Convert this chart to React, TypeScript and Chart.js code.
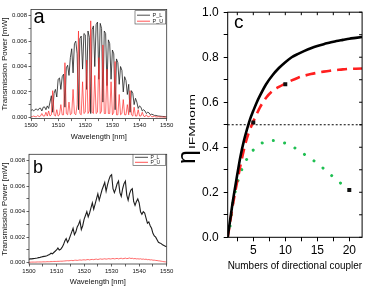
import React, { useEffect, useRef } from 'react';
import { Chart, registerables } from 'chart.js';
Chart.register(...registerables);

const FONT = '"Liberation Sans", Arial, Helvetica, sans-serif';

// ---------- panels a & b : spectra ----------
const WAVELENGTH = Array.from({ length: 101 }, (_, i) => 1500 + i * 0.5);
const SPEC_X_TICKS = [1500, 1510, 1520, 1530, 1540, 1550];
const SPEC_X_MINOR = [1505, 1515, 1525, 1535, 1545];
const SPEC_Y_TICKS = [0, 0.002, 0.004, 0.006, 0.008];
const SPEC_Y_MINOR = [0.001, 0.003, 0.005, 0.007];
const LEGEND_LABELS = ['P_L', 'P_U'];

const A_PL = [
  0.00055, 0.0006, 0.0005, 0.00062, 0.00066, 0.00055, 0.0007, 0.00072, 0.0005, 0.0008,
  0.00082, 0.0006, 0.0009, 0.0007, 0.0012, 0.0017, 0.0004, 0.0019, 0.0022, 0.0016,
  0.003, 0.0031, 0.0022, 0.0032, 0.0034, 0.0008, 0.0039, 0.0041, 0.0033, 0.0047,
  0.0054, 0.0035, 0.0058, 0.006, 0.005, 0.0006, 0.0062, 0.0064, 0.0038, 0.0066,
  0.0065, 0.0022, 0.0068, 0.0063, 0.0003, 0.0069, 0.0072, 0.004, 0.0073, 0.0075,
  0.003, 0.0074, 0.007, 0.0012, 0.0068, 0.0066, 0.0025, 0.0061, 0.0058, 0.003,
  0.0053, 0.005, 0.0006, 0.0046, 0.0043, 0.0026, 0.004, 0.0037, 0.002, 0.0032,
  0.0029, 0.0018, 0.0026, 0.0004, 0.0021, 0.0019, 0.001, 0.0015, 0.0012, 0.0007,
  0.0009, 0.0008, 0.0005, 0.0006, 0.0005, 0.0003, 0.0004, 0.00035, 0.0002, 0.00025,
  0.0002, 0.00015, 0.00015, 0.00012, 0.0001, 0.00009, 0.00008, 0.00007, 0.00006, 0.00005,
  0.00005,
];
const A_PU = [
  0.00005, 0.00005, 0.0001, 0.00005, 0.00005, 0.00015, 0.00005, 0.0001, 0.0003, 0.0001,
  0.0001, 0.0004, 0.0001, 0.0005, 0.0001, 0.0002, 0.0021, 0.0002, 0.0001, 0.0006,
  0.0001, 0.0002, 0.001, 0.0002, 0.0002, 0.0043, 0.0003, 0.0002, 0.0012, 0.0002,
  0.0003, 0.0022, 0.0003, 0.0002, 0.001, 0.0068, 0.0003, 0.0002, 0.0028, 0.0003,
  0.0004, 0.0045, 0.0003, 0.0005, 0.0076, 0.0004, 0.0003, 0.0033, 0.0003, 0.0004,
  0.0047, 0.0003, 0.0005, 0.0057, 0.0003, 0.0003, 0.0038, 0.0003, 0.0003, 0.0028,
  0.0002, 0.0004, 0.0044, 0.0002, 0.0002, 0.0018, 0.0002, 0.0003, 0.0014, 0.0002,
  0.0002, 0.001, 0.0002, 0.0021, 0.0002, 0.0001, 0.0008, 0.0001, 0.0001, 0.0006,
  0.0001, 0.0001, 0.0004, 0.0001, 0.00005, 0.0002, 0.00005, 0.00005, 0.00015, 0.00005,
  0.00005, 0.0001, 0.00003, 0.00003, 0.00005, 0.00003, 0.00003, 0.00002, 0.00002, 0.00002,
  0.00002,
];
const B_PL = [
  0.00028, 0.0003, 0.0003, 0.00032, 0.00033, 0.00035, 0.00037, 0.0004, 0.00042, 0.00045,
  0.00048, 0.0005, 0.00052, 0.00055, 0.0006, 0.00065, 0.00075, 0.0007, 0.0008, 0.0009,
  0.001, 0.00115, 0.001, 0.00105, 0.0012, 0.0014, 0.0017, 0.0019, 0.0016, 0.0018,
  0.0021, 0.0024, 0.0027, 0.0022, 0.0024, 0.0028, 0.003, 0.0033, 0.0026, 0.0029,
  0.0034, 0.0037, 0.004, 0.0036, 0.0039, 0.0043, 0.0047, 0.0042, 0.0046, 0.005,
  0.0054, 0.0049, 0.0053, 0.0057, 0.006, 0.0063, 0.0056, 0.0061, 0.0065, 0.0068,
  0.0069, 0.0058, 0.0055, 0.0058, 0.0062, 0.0064, 0.0055, 0.0052, 0.0058, 0.0062,
  0.0064, 0.0053, 0.0049, 0.0054, 0.0057, 0.0058, 0.0048, 0.0045, 0.0048, 0.005,
  0.0047, 0.004, 0.0038, 0.004, 0.0039, 0.0035, 0.0031, 0.0032, 0.0029, 0.0027,
  0.0023, 0.0021, 0.002, 0.0018, 0.0016, 0.00155, 0.0015, 0.0014, 0.00135, 0.0013,
  0.00125,
];
const B_PU = [
  0.00004, 0.00004, 0.00005, 0.00005, 0.00005, 0.00005, 0.00006, 0.00006, 0.00006, 0.00006,
  0.00007, 0.00007, 0.00007, 0.00008, 0.00008, 0.00008, 0.00009, 0.00009, 0.0001, 0.0001,
  0.0001, 0.00011, 0.00011, 0.00012, 0.00012, 0.00013, 0.00014, 0.00015, 0.00016, 0.00015,
  0.00017, 0.00018, 0.00016, 0.00019, 0.0002, 0.00018, 0.0002, 0.00022, 0.0002, 0.00022,
  0.00023, 0.00021, 0.00024, 0.00025, 0.00022, 0.00025, 0.00026, 0.00024, 0.00027, 0.00028,
  0.00025, 0.00028, 0.0003, 0.00027, 0.00029, 0.00031, 0.00028, 0.0003, 0.00032, 0.00029,
  0.00031, 0.00033, 0.0003, 0.00032, 0.00034, 0.0003, 0.00033, 0.00035, 0.00031, 0.00033,
  0.00036, 0.00032, 0.00034, 0.00037, 0.00033, 0.00035, 0.00031, 0.00033, 0.0003, 0.00031,
  0.00029, 0.00031, 0.00027, 0.00029, 0.00026, 0.00028, 0.00024, 0.00025, 0.00022, 0.00023,
  0.0002, 0.0002, 0.00018, 0.00017, 0.00015, 0.00014, 0.00012, 0.0001, 0.00008, 0.00007,
  0.00005,
];

// ---------- panel c ----------
const N_GRID = [1, 1.25, 1.5, 1.75, 2, 2.5, 3, 3.5, 4, 4.5, 5, 5.5, 6, 7, 8, 9, 10, 11, 12, 13, 14, 15, 16, 17, 18, 19, 20, 21, 22];
const ETA_BLACK = [0, 0.05, 0.1, 0.15, 0.195, 0.28, 0.36, 0.425, 0.478, 0.525, 0.562, 0.597, 0.627, 0.68, 0.72, 0.752, 0.778, 0.8, 0.815, 0.828, 0.84, 0.85, 0.858, 0.865, 0.872, 0.877, 0.882, 0.886, 0.89];
const ETA_RED = [0, 0.045, 0.09, 0.135, 0.175, 0.25, 0.32, 0.385, 0.44, 0.48, 0.515, 0.545, 0.575, 0.62, 0.65, 0.668, 0.683, 0.697, 0.709, 0.718, 0.725, 0.731, 0.736, 0.74, 0.743, 0.746, 0.748, 0.749, 0.75];
const N_GREEN = [1, 1.25, 1.5, 1.75, 2, 2.5, 3, 3.5, 4, 4.5, 5, 5.5, 6, 7, 8, 9, 10, 11, 12, 13, 14, 15, 16, 17, 18, 19, 20, 21, 21.3];
const ETA_GREEN = [0, 0.03, 0.075, 0.14, 0.18, 0.24, 0.285, 0.322, 0.348, 0.372, 0.388, 0.4, 0.413, 0.425, 0.43, 0.425, 0.418, 0.405, 0.388, 0.368, 0.35, 0.328, 0.305, 0.28, 0.256, 0.232, 0.208, 0.188, 0.182];
const THRESHOLD = 0.5;
const MARK_N = [5, 10, 20];
const MARK_ETA = [0.51, 0.68, 0.21];
const C_X_TICKS = [5, 10, 15, 20];
const C_X_MINOR = [2.5, 7.5, 12.5, 17.5];
const C_Y_TICKS = [0, 0.2, 0.4, 0.6, 0.8, 1.0];
const C_Y_MINOR = [0.1, 0.3, 0.5, 0.7, 0.9];

const pts = (xs: number[], ys: number[]) => ys.map((y, i) => ({ x: xs[i], y }));

const framePlugin = (color: string, width: number) => ({
  id: 'frame',
  afterDatasetsDraw(chart: any) {
    const { ctx, chartArea: a } = chart;
    ctx.save();
    ctx.strokeStyle = color;
    ctx.lineWidth = width;
    ctx.strokeRect(a.left, a.top, a.right - a.left, a.bottom - a.top);
    ctx.restore();
  },
});

const letterPlugin = (text: string, size: number, dx: number, dy: number) => ({
  id: 'letter',
  afterDraw(chart: any) {
    const { ctx, chartArea: a } = chart;
    ctx.save();
    ctx.fillStyle = '#000';
    ctx.font = `${size}px ${FONT}`;
    ctx.textBaseline = 'alphabetic';
    ctx.textAlign = 'left';
    ctx.fillText(text, a.left + dx, a.top + dy);
    ctx.restore();
  },
});

const legendPlugin = (w: number, h: number, dx: number, dy: number, rows: number[], fs: number) => ({
  id: 'legendBox',
  afterDraw(chart: any) {
    const { ctx, chartArea: a } = chart;
    const x0 = a.right - dx - w;
    const y0 = a.top + dy;
    ctx.save();
    ctx.fillStyle = '#fff';
    ctx.fillRect(x0, y0, w, h);
    ctx.strokeStyle = '#444';
    ctx.lineWidth = 0.6;
    ctx.strokeRect(x0, y0, w, h);
    LEGEND_LABELS.forEach((lab, i) => {
      const ds = chart.data.datasets.find((d: any) => d.label === lab);
      const y = y0 + rows[i];
      ctx.strokeStyle = ds.borderColor;
      ctx.lineWidth = 0.8;
      ctx.beginPath();
      ctx.moveTo(x0 + 2, y);
      ctx.lineTo(x0 + 15, y);
      ctx.stroke();
      ctx.fillStyle = '#222';
      ctx.font = `${fs}px ${FONT}`;
      ctx.textBaseline = 'middle';
      ctx.fillText(lab, x0 + 17.5, y);
    });
    ctx.restore();
  },
});

function specConfig(pl: number[], pu: number[], p: any) {
  const fmt3 = (v: number) => (SPEC_Y_TICKS.some((t) => Math.abs(t - v) < 1e-9) ? v.toFixed(3) : '');
  const fmtX = (v: number) => (SPEC_X_TICKS.includes(v) ? String(v) : '');
  return {
    type: 'line',
    data: {
      datasets: [
        { label: LEGEND_LABELS[0], data: pts(WAVELENGTH, pl), borderColor: '#1e1e1e', borderWidth: p.blw, pointRadius: 0, order: 2 },
        { label: LEGEND_LABELS[1], data: pts(WAVELENGTH, pu), borderColor: '#ff2a2a', borderWidth: 0.7, pointRadius: 0, order: 1 },
      ],
    },
    options: {
      responsive: false,
      animation: false,
      devicePixelRatio: 1,
      layout: { padding: { left: 0, top: p.top, right: p.right, bottom: p.bottom } },
      plugins: { legend: { display: false }, tooltip: { enabled: false } },
      scales: {
        x: {
          type: 'linear',
          min: 1500,
          max: 1550,
          afterBuildTicks: (s: any) => {
            s.ticks = [...SPEC_X_TICKS, ...SPEC_X_MINOR].sort((a, b) => a - b).map((v) => ({ value: v }));
          },
          afterFit: (s: any) => {
            s.height = p.xh;
          },
          ticks: { autoSkip: false, maxRotation: 0, padding: 1, color: '#111', font: { family: FONT, size: 6 }, callback: fmtX },
          grid: { drawOnChartArea: false, tickLength: 2.5, color: '#222', lineWidth: 0.7 },
          border: { display: false },
          title: { display: true, text: 'Wavelength [nm]', color: '#111', font: { family: FONT, size: 7.5 }, padding: 0 },
        },
        y: {
          type: 'linear',
          min: -0.0001,
          max: 0.0085,
          afterBuildTicks: (s: any) => {
            s.ticks = [...SPEC_Y_TICKS, ...SPEC_Y_MINOR].sort((a, b) => a - b).map((v) => ({ value: v }));
          },
          afterFit: (s: any) => {
            s.width = p.yw;
          },
          ticks: { autoSkip: false, padding: 1.5, color: '#111', font: { family: FONT, size: 6 }, callback: fmt3 },
          grid: { drawOnChartArea: false, tickLength: 2.5, color: '#222', lineWidth: 0.7 },
          border: { display: false },
          title: { display: true, text: 'Transmission Power [mW]', color: '#111', font: { family: FONT, size: 8 }, padding: 0 },
        },
      },
    },
    plugins: [framePlugin('#333', 0.8), letterPlugin(p.letter, p.lsize, p.ldx, p.ldy), legendPlugin(p.lw, p.lh, p.ldxr, p.ldyt, p.rows, p.lfs)],
  };
}

const etaTitlePlugin = {
  id: 'etaTitle',
  afterDraw(chart: any) {
    const { ctx } = chart;
    ctx.save();
    ctx.translate(20, 164);
    ctx.rotate(-Math.PI / 2);
    ctx.fillStyle = '#000';
    ctx.textBaseline = 'alphabetic';
    ctx.font = `25px ${FONT}`;
    ctx.fillText('η', 0, 0);
    const w = ctx.measureText('η').width;
    ctx.translate(w + 1, -0.5);
    ctx.scale(1.45, 1);
    ctx.font = `9.5px ${FONT}`;
    ctx.fillText('IFMnorm', 0, 0);
    ctx.restore();
  },
};

const mirrorTicksPlugin = {
  id: 'mirrorTicks',
  afterDatasetsDraw(chart: any) {
    const { ctx, chartArea: a, scales } = chart;
    ctx.save();
    ctx.strokeStyle = '#000';
    ctx.lineWidth = 1;
    ctx.beginPath();
    [...C_X_TICKS, ...C_X_MINOR].forEach((v) => {
      const x = scales.x.getPixelForValue(v);
      ctx.moveTo(x, a.top);
      ctx.lineTo(x, a.top + 3);
    });
    [...C_Y_TICKS, ...C_Y_MINOR].forEach((v) => {
      const y = scales.y.getPixelForValue(v);
      ctx.moveTo(a.right, y);
      ctx.lineTo(a.right - 3, y);
    });
    ctx.stroke();
    ctx.restore();
  },
};

function etaConfig() {
  return {
    type: 'line',
    data: {
      datasets: [
        { label: 'marks', data: pts(MARK_N, MARK_ETA), showLine: false, pointStyle: 'rect', pointRadius: 2.8, backgroundColor: '#111', borderColor: '#111', borderWidth: 0, order: 0 },
        { label: 'ideal', data: pts(N_GRID, ETA_BLACK), borderColor: '#000', borderWidth: 2.6, pointRadius: 0, cubicInterpolationMode: 'monotone', order: 1 },
        { label: 'loss', data: pts(N_GRID, ETA_RED), borderColor: '#ff1f1f', borderWidth: 2.6, borderDash: [10, 6], pointRadius: 0, cubicInterpolationMode: 'monotone', order: 2 },
        { label: 'lossy', data: pts(N_GREEN, ETA_GREEN), borderColor: '#1fbf52', borderWidth: 3, borderDash: [0.01, 11.5], borderCapStyle: 'round', pointRadius: 0, cubicInterpolationMode: 'monotone', order: 3 },
        { label: 'threshold', data: [{ x: 1, y: THRESHOLD }, { x: 22, y: THRESHOLD }], borderColor: '#000', borderWidth: 1, borderDash: [2, 2], pointRadius: 0, order: 4 },
      ],
    },
    options: {
      responsive: false,
      animation: false,
      devicePixelRatio: 1,
      layout: { padding: { left: 0, top: 7.3, right: 11.9, bottom: 14.1 } },
      plugins: { legend: { display: false }, tooltip: { enabled: false } },
      scales: {
        x: {
          type: 'linear',
          min: 1,
          max: 22,
          afterBuildTicks: (s: any) => {
            s.ticks = [...C_X_TICKS, ...C_X_MINOR].sort((a, b) => a - b).map((v) => ({ value: v }));
          },
          afterFit: (s: any) => {
            s.height = 35.6;
          },
          ticks: { autoSkip: false, maxRotation: 0, padding: 2, color: '#000', font: { family: FONT, size: 12 }, callback: (v: number) => (C_X_TICKS.includes(v) ? String(v) : '') },
          grid: { drawOnChartArea: false, tickLength: 4, color: '#000', lineWidth: 1 },
          border: { display: false },
          title: { display: true, text: 'Numbers of directional coupler', color: '#000', font: { family: FONT, size: 11.5 }, padding: 0 },
        },
        y: {
          type: 'linear',
          min: 0,
          max: 1,
          afterBuildTicks: (s: any) => {
            s.ticks = [...C_Y_TICKS, ...C_Y_MINOR].sort((a, b) => a - b).map((v) => ({ value: v }));
          },
          afterFit: (s: any) => {
            s.width = 52.7;
          },
          ticks: { autoSkip: false, padding: 5, color: '#000', font: { family: FONT, size: 12 }, callback: (v: number) => (C_Y_TICKS.some((t) => Math.abs(t - v) < 1e-9) ? v.toFixed(1) : '') },
          grid: { drawOnChartArea: false, tickLength: 4, color: '#000', lineWidth: 1 },
          border: { display: false },
        },
      },
    },
    plugins: [framePlugin('#000', 1), mirrorTicksPlugin, etaTitlePlugin, letterPlugin('c', 19, 6.3, 16)],
  };
}

function ChartCanvas({ make, left, top, width, height }: any) {
  const ref = useRef<HTMLCanvasElement | null>(null);
  useEffect(() => {
    if (!ref.current) return;
    const chart = new Chart(ref.current, make());
    return () => chart.destroy();
  }, []);
  return <canvas ref={ref} width={width} height={height} style={{ position: 'absolute', left, top, width, height, display: 'block' }} />;
}

export default function App() {
  return (
    <div style={{ position: 'absolute', left: 0, top: 0, width: 374, height: 287, background: '#fff', overflow: 'hidden' }}>
      <ChartCanvas
        left={0}
        top={0}
        width={180}
        height={141}
        make={() =>
          specConfig(A_PL, A_PU, { blw: 0.8, top: 9.4, right: 180 - 166.7, bottom: 0, xh: 141 - 118.6, yw: 31, letter: 'a', lsize: 20, ldx: 2.5, ldy: 14, lw: 30.7, lh: 13.3, ldxr: 1, ldyt: 1.3, rows: [4.5, 10.5], lfs: 5.5 })
        }
      />
      <ChartCanvas
        left={0}
        top={143}
        width={180}
        height={144}
        make={() =>
          specConfig(B_PL, B_PU, { blw: 1.1, top: 11.3, right: 180 - 166.7, bottom: 0.5, xh: 144 - 0.5 - 121, yw: 29, letter: 'b', lsize: 18, ldx: 4, ldy: 19, lw: 32.7, lh: 11, ldxr: 1, ldyt: 0, rows: [3, 8], lfs: 5 })
        }
      />
      <ChartCanvas left={175} top={0} width={199} height={287} make={etaConfig} />
    </div>
  );
}
